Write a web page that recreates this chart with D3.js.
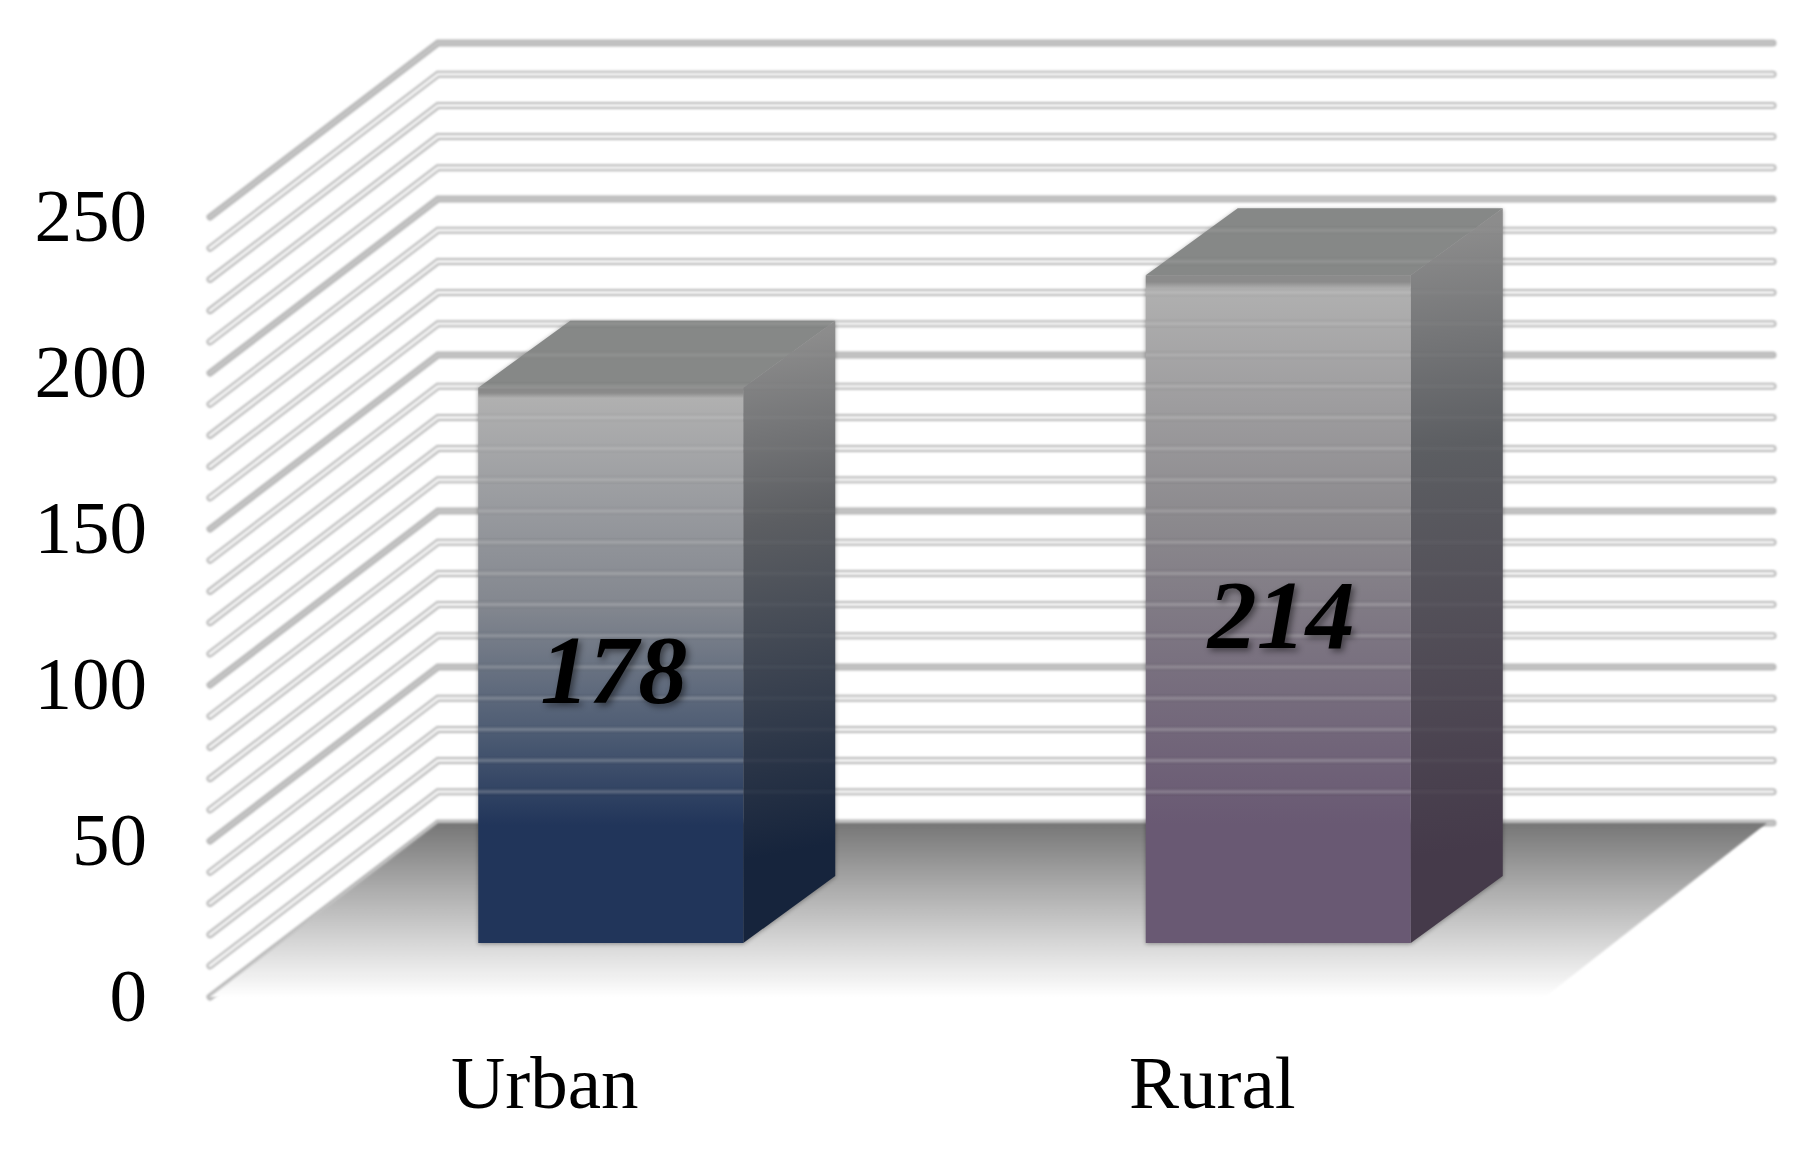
<!DOCTYPE html>
<html><head><meta charset="utf-8">
<script src="https://cdn.jsdelivr.net/npm/d3@7"></script>
<style>html,body{margin:0;background:#fff}svg{display:block}text{font-family:"Liberation Serif",serif;fill:#000}</style>
</head><body><svg id="c" width="1820" height="1152"></svg>
<script>
const categories = ["Urban","Rural"];
const values = [178,214];
const tickValues = [0,50,100,150,200,250];
const barBottomColors = ["#21355a","#695973"];
const barMidColors = [[[.5,"#83878f"],[.8,"#4b5a72"]],[[.45,"#8b898d"],[.69,"#7a7280"]]];
const sideBottomColors = ["#16243c","#453a4a"];

const svg = d3.select("#c"), defs = svg.append("defs");
const depthX = 228, depthY = 174;
const y = d3.scaleLinear().domain([0,250]).range([997,217]);
const x = d3.scaleBand().domain(categories).range([210,1545]).padding(0);
const gridVals = y.ticks(25);
const barW = 265, lift = 54, liftX = 67, bx = 92, by = 67;

const gridPath = v => d3.line()([[210,y(v)],[210+depthX,y(v)-depthY],[1773,y(v)-depthY]]);
const soft = defs.append("filter").attr("id","soft").attr("x","-5%").attr("y","-5%").attr("width","110%").attr("height","110%");
soft.append("feGaussianBlur").attr("stdDeviation",0.8);

// floor
const fg = defs.append("linearGradient").attr("id","floor").attr("x1",0).attr("x2",0).attr("y1",0).attr("y2",1);
[[0,"#767676"],[.35,"#a8a8a8"],[.7,"#d8d8d8"],[1,"#ffffff"]].forEach(s=>fg.append("stop").attr("offset",s[0]).attr("stop-color",s[1]));

// grid
const grid = svg.append("g").attr("filter","url(#soft)");
const l = grid.selectAll(null).data(gridVals).enter().append("g").attr("fill","none").attr("stroke-linecap","round").attr("stroke-linejoin","miter");
l.append("path").attr("d",gridPath).attr("stroke","#b8b8b8").attr("stroke-width",7);
l.append("path").attr("d",gridPath).attr("stroke",d=>d%50===0?"#c4c4c4":"#f4f4f4").attr("stroke-width",3);

svg.append("polygon").attr("fill","url(#floor)").attr("filter","url(#soft)")
  .attr("points",[[210,y(0)],[210+depthX,y(0)-depthY],[1773-6,y(0)-depthY],[210+1335,y(0)]].join(" "));

// bars
categories.forEach((c,i)=>{
  const v = values[i], x0 = x(c)+x.bandwidth()/2-barW/2+liftX, x1 = x0+barW;
  const yb = y(0)-lift, yt = y(v)-lift;
  const front = [[x0,yt],[x1,yt],[x1,yb],[x0,yb]];
  const side = [[x1,yt],[x1+bx,yt-by],[x1+bx,yb-by],[x1,yb]];
  const top = [[x0,yt],[x0+bx,yt-by],[x1+bx,yt-by],[x1,yt]];
  const fid="f"+i, sid="s"+i;
  const g1 = defs.append("linearGradient").attr("id",fid).attr("gradientUnits","userSpaceOnUse").attr("x1",0).attr("x2",0).attr("y1",yt).attr("y2",yb-118);
  [[0,"#8b8b8b"],[.012,"#8b8b8b"],[.024,"#b0b0b0"],...barMidColors[i],[1,barBottomColors[i]]].forEach(s=>g1.append("stop").attr("offset",s[0]).attr("stop-color",s[1]));
  const g2 = defs.append("linearGradient").attr("id",sid).attr("gradientUnits","userSpaceOnUse").attr("x1",x1).attr("y1",yt-40).attr("x2",x1+bx).attr("y2",yb-100);
  [[0,"#8c8c8c"],[.35,"#5c5e62"],[1,sideBottomColors[i]]].forEach(s=>g2.append("stop").attr("offset",s[0]).attr("stop-color",s[1]));
  const b = svg.append("g").style("filter","blur(0.7px) drop-shadow(0 1px 2px rgba(0,0,0,.35))");
  const pts = a=>a.join(" ");
  b.append("polygon").attr("points",pts(top)).attr("fill","#868887");
  b.append("polygon").attr("points",pts(side)).attr("fill",`url(#${sid})`);
  b.append("polygon").attr("points",pts(front)).attr("fill",`url(#${fid})`);
  // gridlines showing through
  defs.append("clipPath").attr("id","cf"+i).append("polygon").attr("points",pts(front));
  defs.append("clipPath").attr("id","cs"+i).append("polygon").attr("points",pts(side));
  defs.append("clipPath").attr("id","ct"+i).append("polygon").attr("points",pts(top));
  const thru = (cid,o)=>{
    const gg = svg.append("g").attr("clip-path",`url(#${cid})`).append("g").attr("filter","url(#soft)");
    const fl = gridVals.filter(d=>d>0 && y(d)-depthY>yt-by-4);
    gg.selectAll(null).data(fl).enter().append("path").attr("d",gridPath).attr("fill","none").attr("stroke","#000").attr("stroke-opacity",o*.35).attr("stroke-width",6.5);
    gg.selectAll(null).data(fl).enter().append("path").attr("d",gridPath).attr("fill","none").attr("stroke","#fff").attr("stroke-opacity",o).attr("stroke-width",3);
  };
  thru("cf"+i,.24); thru("ct"+i,.14); thru("cs"+i,.04);
});

// y axis
const ax = svg.append("g").attr("transform","translate(147,0)").call(d3.axisLeft(y).tickValues(tickValues).tickSize(0).tickPadding(0));
ax.select(".domain").remove();
ax.selectAll("text").attr("font-family","Liberation Serif").attr("font-size",75).attr("fill","#000").attr("y",23).attr("dy",0);

// x labels
svg.selectAll(".cat").data(categories).enter().append("text").attr("class","cat")
  .attr("x",d=>x(d)+x.bandwidth()/2+1).attr("y",1108).attr("text-anchor","middle").attr("font-size",75).text(d=>d);

// value labels
svg.selectAll(".val").data(values).enter().append("text").attr("class","val")
  .attr("x",(d,i)=>x(categories[i])+x.bandwidth()/2+liftX+3).attr("y",(d,i)=>[703,648][i])
  .attr("text-anchor","middle").attr("font-size",98).attr("font-weight","bold").attr("font-style","italic")
  .style("filter","drop-shadow(3px 3px 3px rgba(0,0,0,.45))").text(d=>d);
</script></body></html>
